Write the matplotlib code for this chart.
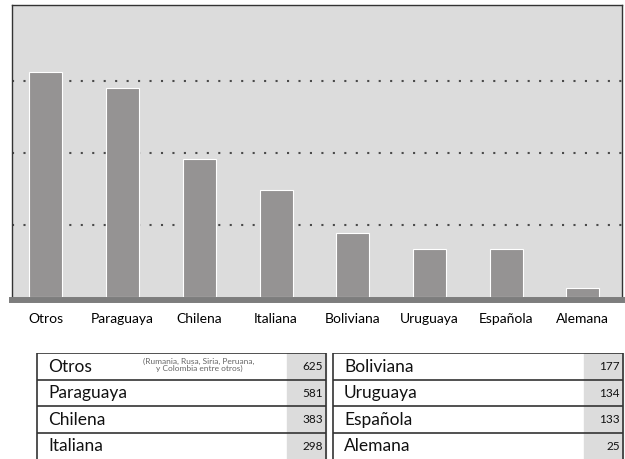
import numpy as np
import matplotlib
matplotlib.use('Agg')
import matplotlib.pyplot as plt
from matplotlib.patches import Rectangle

plt.rcParams['font.family'] = ['Lato', 'DejaVu Sans']

categories = ['Otros', 'Paraguaya', 'Chilena', 'Italiana',
              'Boliviana', 'Uruguaya', 'Española', 'Alemana']
values = [625, 581, 383, 298, 177, 134, 133, 25]
note_otros = '(Rumania, Rusa, Siria, Peruana,\ny Colombia entre otros)'
grid_levels = [200, 400, 600]

W, H = 625, 459
fig = plt.figure(figsize=(W / 100, H / 100), dpi=100)


def px_axes(x0, y0, x1, y1):
    # axes placed in pixel coordinates (origin top-left)
    return fig.add_axes([x0 / W, 1 - y1 / H, (x1 - x0) / W, (y1 - y0) / H])


# --- bar chart ---
ax = px_axes(12, 5, 622, 297)
ax.set_facecolor('#dcdcdc')
x = np.arange(len(categories))
ax.bar(x, values, width=0.43, color='#959393', edgecolor='white',
       linewidth=0.8, zorder=2)
ax.set_xlim(-0.443, 7.51)
ax.set_ylim(0, 811)
ax.set_yticks(grid_levels)
ax.set_axisbelow(True)
ax.yaxis.grid(True, linestyle=(0, (1, 4.5)), color='#4a4a4a', linewidth=1.5)
ax.tick_params(axis='y', left=False, labelleft=False)
ax.set_xticks(x)
ax.set_xticklabels(categories, fontsize=8.5)
ax.tick_params(axis='x', length=0, pad=9)
for s in ['left', 'top', 'right']:
    ax.spines[s].set_color('#333333')
    ax.spines[s].set_linewidth(1.0)
ax.spines['bottom'].set_color('#7d7d7d')
ax.spines['bottom'].set_linewidth(4.3)
ax.spines['bottom'].set_position(('outward', 2.2))

# --- tables ---
tab = px_axes(0, 353, W, H)
tab.set_xlim(0, W)
tab.set_ylim(4, 0)
tab.axis('off')

for t, (x0, x1) in enumerate([(37, 326), (333, 623)]):
    cats = categories[t * 4:(t + 1) * 4]
    vals = values[t * 4:(t + 1) * 4]
    tab.add_patch(Rectangle((x1 - 39, 0), 39, 4, color='#dcdcdc', zorder=1))
    tab.hlines(range(4), x0, x1, color='#333333', linewidth=1.2, zorder=3)
    tab.vlines([x0, x1], 0, 4, color='#333333', linewidth=1.2, zorder=3)
    for i, (c, v) in enumerate(zip(cats, vals)):
        tab.text(x0 + 11, i + 0.52, c, fontsize=12.5, va='center', ha='left',
                 color='#111111', zorder=4)
        tab.text(x1 - 3, i + 0.52, str(v), fontsize=8.5, va='center', ha='right',
                 color='#111111', zorder=4)

tab.text(199, 0.45, note_otros, fontsize=6, va='center', ha='center',
         color='#666666', linespacing=0.95, zorder=4)

fig.savefig('out.png', dpi=100)
